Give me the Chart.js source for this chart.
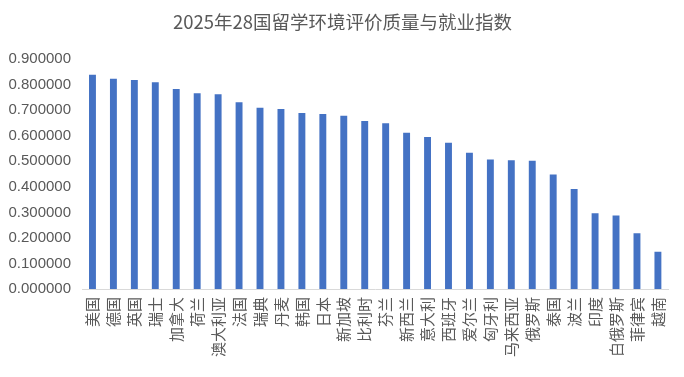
<!DOCTYPE html>
<html>
<head>
<meta charset="utf-8">
<script src="https://cdn.jsdelivr.net/npm/chart.js@4/dist/chart.umd.min.js"></script>
<style>
html,body{margin:0;padding:0;background:#fff;}
#wrap{width:684px;height:377px;}
</style>
</head>
<body>
<div id="wrap"><canvas id="c" width="684" height="377"></canvas></div>
<script>
const titleText = "2025年28国留学环境评价质量与就业指数";
const countries = ["美国","德国","英国","瑞士","加拿大","荷兰","澳大利亚","法国","瑞典","丹麦","韩国","日本","新加坡","比利时","芬兰","新西兰","意大利","西班牙","爱尔兰","匈牙利","马来西亚","俄罗斯","泰国","波兰","印度","白俄罗斯","菲律宾","越南"];
const indexValues = [0.839,0.823,0.819,0.810,0.783,0.767,0.763,0.731,0.710,0.705,0.689,0.685,0.679,0.658,0.649,0.612,0.595,0.573,0.534,0.507,0.504,0.502,0.448,0.392,0.297,0.288,0.218,0.146];
const yTicks = [0,0.1,0.2,0.3,0.4,0.5,0.6,0.7,0.8,0.9];

const txt = "#595959";
new Chart(document.getElementById("c"), {
  type: "bar",
  data: {
    labels: countries,
    datasets: [{
      data: indexValues,
      backgroundColor: "#4472C4",
      borderWidth: 0,
      barPercentage: 0.33,
      categoryPercentage: 1.0
    }]
  },
  options: {
    responsive: false,
    animation: false,
    devicePixelRatio: 1,
    layout: { padding: { left: 6, right: 5, top: 11, bottom: 0 } },
    plugins: {
      legend: { display: false },
      tooltip: { enabled: false },
      title: {
        display: true,
        text: titleText,
        color: txt,
        font: { family: "'Noto Sans CJK SC', 'Liberation Sans', sans-serif", size: 18.5, weight: "normal" },
        padding: { top: 0, bottom: 26 }
      }
    },
    scales: {
      x: {
        grid: { display: false, drawTicks: false },
        border: { display: true, color: "#D9D9D9", width: 1 },
        ticks: {
          color: txt,
          font: { family: "'Noto Sans CJK SC', sans-serif", size: 15 },
          minRotation: 90, maxRotation: 90,
          autoSkip: false,
          padding: 8
        },
        afterFit: (axis) => { axis.height = 88; }
      },
      y: {
        min: 0, max: 0.9,
        afterBuildTicks: (axis) => { axis.ticks = yTicks.map(v => ({ value: v })); },
        grid: { display: false, drawTicks: false },
        border: { display: false },
        ticks: {
          color: txt,
          font: { family: "'Liberation Sans', 'DejaVu Sans', sans-serif", size: 15 },
          padding: 11,
          callback: (v) => Number(v).toFixed(6)
        },
        afterFit: (axis) => { axis.width = 76; }
      }
    }
  }
});
</script>
</body>
</html>
